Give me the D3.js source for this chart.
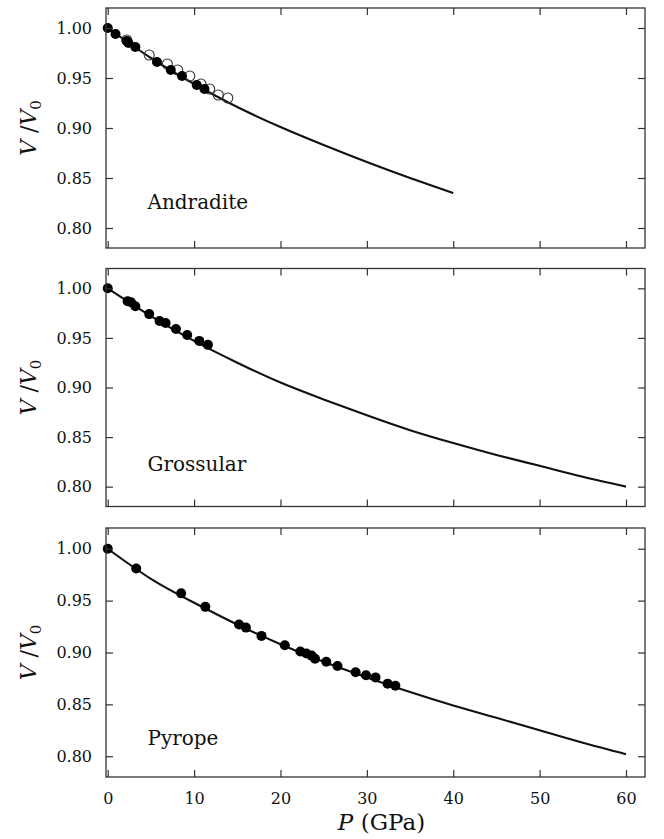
<!DOCTYPE html>
<html><head><meta charset="utf-8">
<script src="https://cdn.jsdelivr.net/npm/d3@7/dist/d3.min.js"></script>
<style>html,body{margin:0;padding:0;background:#fff;}svg{display:block;}</style>
</head><body>
<svg id="chart" width="664" height="839"></svg>
<script>
// ---------- data ----------
const panelNames = ["Andradite", "Grossular", "Pyrope"];
const xTicks = [0, 10, 20, 30, 40, 50, 60];
const yTicks = [0.80, 0.85, 0.90, 0.95, 1.00];
const yTickLabels = ["0.80", "0.85", "0.90", "0.95", "1.00"];

// fitted curves (P in GPa, V/V0)
const andraditeCurveP = [0, 5, 10, 15, 20, 25, 30, 35, 40];
const andraditeCurveV = [1.000, 0.970, 0.944, 0.921, 0.901, 0.883, 0.866, 0.850, 0.835];
const grossularCurveP = [0, 5, 10, 15, 20, 25, 30, 35, 40, 45, 50, 55, 60];
const grossularCurveV = [1.000, 0.972, 0.947, 0.925, 0.905, 0.888, 0.872, 0.857, 0.844, 0.832, 0.821, 0.810, 0.800];
const pyropeCurveP = [0, 5, 10, 15, 20, 25, 30, 35, 40, 45, 50, 55, 60];
const pyropeCurveV = [1.000, 0.971, 0.948, 0.927, 0.908, 0.891, 0.876, 0.862, 0.849, 0.837, 0.825, 0.813, 0.802];

// measured points
const andraditeFilledP = [0, 0.9, 2.2, 2.4, 3.2, 5.7, 7.3, 8.6, 10.3, 11.2];
const andraditeFilledV = [1.000, 0.994, 0.987, 0.985, 0.981, 0.966, 0.958, 0.952, 0.943, 0.939];
const andraditeOpenP = [2.2, 4.8, 6.9, 8.1, 9.5, 10.8, 11.8, 12.8, 13.9];
const andraditeOpenV = [0.988, 0.973, 0.964, 0.958, 0.952, 0.944, 0.939, 0.933, 0.930];

const grossularFilledP = [0, 2.3, 2.7, 3.2, 4.8, 6.0, 6.7, 7.9, 9.2, 10.6, 11.6];
const grossularFilledV = [1.000, 0.987, 0.986, 0.982, 0.974, 0.967, 0.965, 0.959, 0.953, 0.947, 0.943];

const pyropeFilledP = [0, 3.3, 8.5, 11.3, 15.2, 16.0, 17.8, 20.5, 22.3, 23.0, 23.6, 24.0, 25.3, 26.6, 28.7, 29.9, 31.0, 32.4, 33.3];
const pyropeFilledV = [1.000, 0.981, 0.957, 0.944, 0.927, 0.924, 0.916, 0.907, 0.901, 0.899, 0.897, 0.894, 0.891, 0.887, 0.881, 0.878, 0.876, 0.870, 0.868];

const zip = (a, b) => a.map((v, i) => [v, b[i]]);
const panels = [
  {name: panelNames[0], top: 8, bottom: 248, labelV: 0.819, curve: zip(andraditeCurveP, andraditeCurveV),
   filled: zip(andraditeFilledP, andraditeFilledV), open: zip(andraditeOpenP, andraditeOpenV)},
  {name: panelNames[1], top: 268.5, bottom: 506.5, labelV: 0.816, curve: zip(grossularCurveP, grossularCurveV),
   filled: zip(grossularFilledP, grossularFilledV), open: []},
  {name: panelNames[2], top: 528, bottom: 777, labelV: 0.811, curve: zip(pyropeCurveP, pyropeCurveV),
   filled: zip(pyropeFilledP, pyropeFilledV), open: []}
];

const svg = d3.select("#chart");
const left = 106, right = 645;
const x = d3.scaleLinear().domain([-0.2, 62.2]).range([left, right]);
const serif = "'DejaVu Serif', 'Liberation Serif', serif";
const frameColor = "#333";
const tickLen = 7;

panels.forEach((p, pi) => {
  const y = d3.scaleLinear().domain([0.78, 1.02]).range([p.bottom, p.top]);
  const g = svg.append("g");

  // curve
  const line = d3.line().x(d => x(d[0])).y(d => y(d[1])).curve(d3.curveNatural);
  g.append("path").datum(p.curve).attr("d", line)
    .attr("fill", "none").attr("stroke", "#111").attr("stroke-width", 2.1);

  // open circles
  g.selectAll("circle.open").data(p.open).join("circle").attr("class", "open")
    .attr("cx", d => x(d[0])).attr("cy", d => y(d[1])).attr("r", 5)
    .attr("fill", "none").attr("stroke", "#333").attr("stroke-width", 1.1);
  // filled circles
  g.selectAll("circle.filled").data(p.filled).join("circle").attr("class", "filled")
    .attr("cx", d => x(d[0])).attr("cy", d => y(d[1])).attr("r", 5)
    .attr("fill", "#000");

  // axes with inward ticks
  const axL = d3.axisLeft(y).tickValues(yTicks).tickSize(-tickLen).tickPadding(tickLen + 7)
    .tickFormat((d, i) => yTickLabels[i]);
  const gl = g.append("g").attr("transform", `translate(${left},0)`).call(axL);
  const axR = d3.axisRight(y).tickValues(yTicks).tickSize(-tickLen).tickFormat("");
  const gr = g.append("g").attr("transform", `translate(${right},0)`).call(axR);
  const axT = d3.axisTop(x).tickValues(xTicks).tickSize(-tickLen).tickFormat("");
  const gt = g.append("g").attr("transform", `translate(0,${p.top})`).call(axT);
  const axB = d3.axisBottom(x).tickValues(xTicks).tickSize(-tickLen).tickPadding(tickLen + 9)
    .tickFormat(pi === 2 ? d3.format("d") : "");
  const gb = g.append("g").attr("transform", `translate(0,${p.bottom})`).call(axB);

  [gl, gr, gt, gb].forEach(a => {
    a.select(".domain").remove();
    a.selectAll(".tick line").attr("stroke", frameColor).attr("stroke-width", 1.2);
    a.selectAll("text").attr("font-family", serif).attr("font-size", 16).attr("fill", "#111");
  });

  // frame
  g.append("rect").attr("x", left).attr("y", p.top)
    .attr("width", right - left).attr("height", p.bottom - p.top)
    .attr("fill", "none").attr("stroke", frameColor).attr("stroke-width", 1.3);

  // panel name
  g.append("text").attr("x", x(4.6)).attr("y", y(p.labelV))
    .attr("font-family", serif).attr("font-size", 20).attr("fill", "#111")
    .text(p.name);

  // y label
  const yl = g.append("text")
    .attr("transform", `translate(36,${(p.top + p.bottom) / 2}) rotate(-90)`)
    .attr("text-anchor", "middle").attr("font-family", serif).attr("font-size", 22).attr("fill", "#111");
  yl.append("tspan").attr("font-style", "italic").text("V");
  yl.append("tspan").text(" /");
  yl.append("tspan").attr("font-style", "italic").text("V");
  yl.append("tspan").attr("font-size", 15).attr("dy", 5).text("0");
});

// x label
const xl = svg.append("text").attr("x", (left + right) / 2 + 6).attr("y", 830)
  .attr("text-anchor", "middle").attr("font-family", serif).attr("font-size", 23).attr("fill", "#111");
xl.append("tspan").attr("font-style", "italic").text("P");
xl.append("tspan").text(" (GPa)");
</script>
</body></html>
